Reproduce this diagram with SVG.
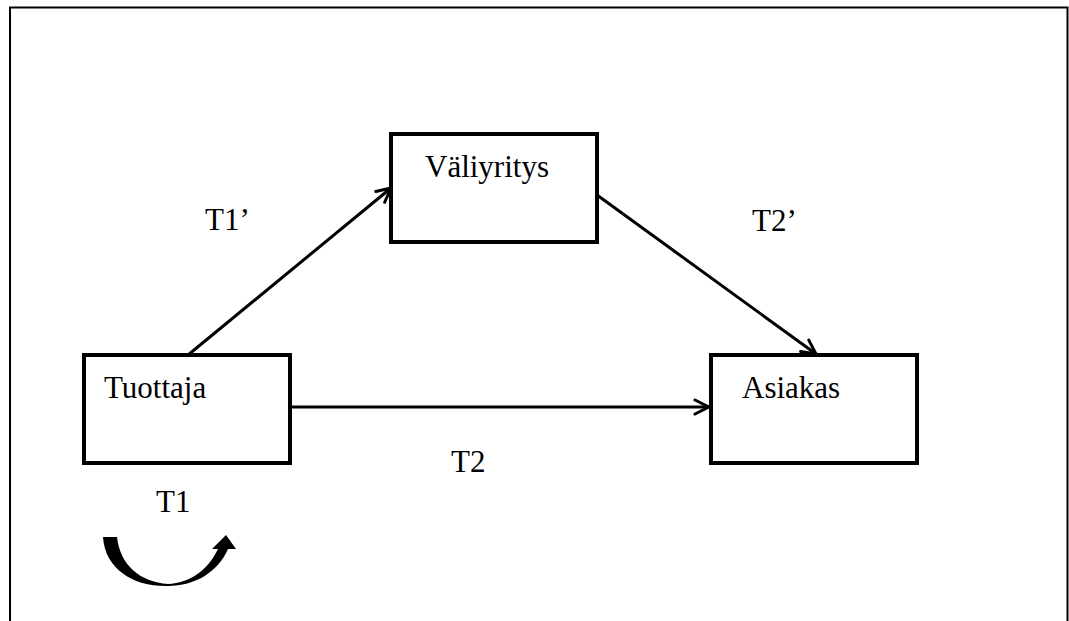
<svg xmlns="http://www.w3.org/2000/svg" width="1069" height="621" viewBox="0 0 1069 621">
<defs>
<style>
.box{fill:#fff;stroke:#000;stroke-width:4}
.lbl{font-family:"Liberation Serif","Times New Roman",serif;font-size:31px;fill:#000}
.con{stroke:#000;stroke-width:3;fill:none}
.head{stroke:#000;stroke-width:3;fill:none;stroke-linecap:round;stroke-linejoin:round}
</style>
<marker id="arr" viewBox="0 0 20 20" refX="18" refY="10" markerWidth="20" markerHeight="20" markerUnits="userSpaceOnUse" orient="auto">
<path d="M4 3 L18 10 L4 17" class="head" stroke-width="3"/>
</marker>
</defs>
<rect width="1069" height="621" fill="#fff"/>
<path d="M10 625 L10 7.5 L1067.5 7.5 L1067.5 625" fill="none" stroke="#000" stroke-width="2"/>
<g id="connectors">
<line class="con" x1="188" y1="355" x2="391" y2="188" marker-end="url(#arr)"/>
<line class="con" x1="597" y1="195" x2="816" y2="354" marker-end="url(#arr)"/>
<line class="con" x1="290" y1="407" x2="709" y2="407" marker-end="url(#arr)"/>
<path id="loop" d="M103 537 C105 570 135 587 168 586 C195 586 218 572 228 549 L236 549 L226 535 L212 549 L218 549 C208 570 190 583 168 584 C140 582 120 565 117 537 Z" fill="#000"/>
</g>
<g id="valiyritys">
<rect class="box" x="391" y="134" width="206" height="108"/>
<text class="lbl" x="425" y="177">Väliyritys</text>
</g>
<g id="tuottaja">
<rect class="box" x="84" y="355" width="206" height="108"/>
<text class="lbl" x="104" y="398">Tuottaja</text>
</g>
<g id="asiakas">
<rect class="box" x="711" y="355" width="206" height="108"/>
<text class="lbl" x="742" y="398">Asiakas</text>
</g>
<g id="labels">
<text class="lbl" x="205" y="230">T1’</text>
<text class="lbl" x="752" y="231">T2’</text>
<text class="lbl" x="451" y="472">T2</text>
<text class="lbl" x="156" y="512">T1</text>
</g>
</svg>
